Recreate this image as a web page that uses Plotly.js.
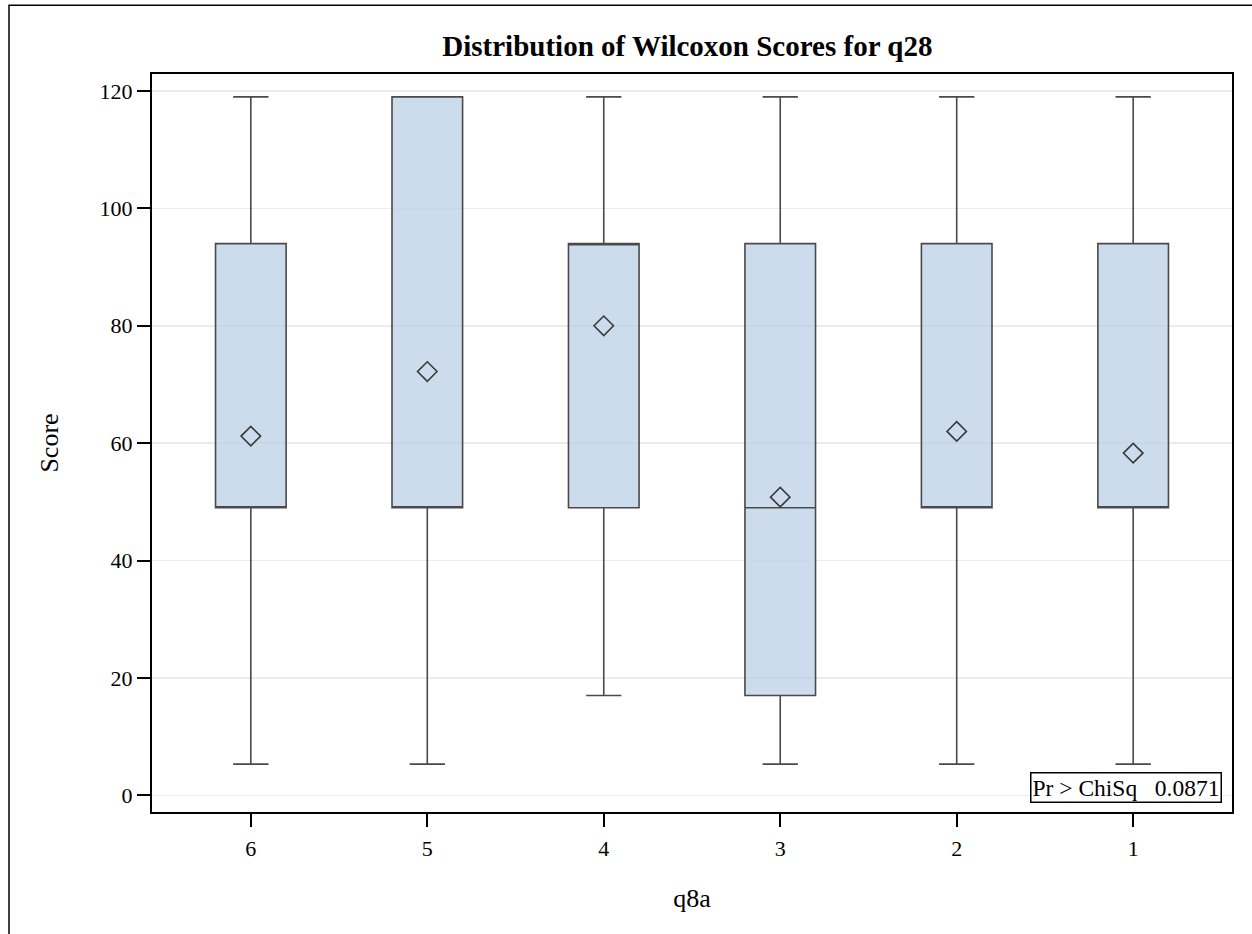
<!DOCTYPE html>
<html>
<head>
<meta charset="utf-8">
<script src="https://cdn.plot.ly/plotly-3.0.1.min.js"></script>
<style>
  html, body { margin: 0; padding: 0; background: #fff; }
  #chart { width: 1252px; height: 934px; }
</style>
</head>
<body>
<div id="chart"></div>
<script>
// Data
const categories = ["6", "5", "4", "3", "2", "1"];
const lowerWhisker = [5.3, 5.3, 17.0, 5.3, 5.3, 5.3];
const q1Values = [49.0, 49.0, 49.0, 17.0, 49.0, 49.0];
const medianValues = [49.0, 49.0, 94.0, 49.0, 49.0, 49.0];
const q3Values = [94.0, 119.0, 94.0, 94.0, 94.0, 94.0];
const upperWhisker = [119.0, 119.0, 119.0, 119.0, 119.0, 119.0];
const meanValues = [61.2, 72.2, 80.0, 50.8, 62.0, 58.3];
const yTicks = [0, 20, 40, 60, 80, 100, 120];
const pValueText = "Pr &gt; ChiSq\u00a0\u00a0\u00a00.0871";

const FONT = "Liberation Serif, Times New Roman, serif";

const boxTrace = {
  type: "box",
  x: categories,
  q1: q1Values,
  median: medianValues,
  q3: q3Values,
  lowerfence: lowerWhisker,
  upperfence: upperWhisker,
  width: 0.4,
  whiskerwidth: 0.5,
  fillcolor: "rgba(188,208,230,0.75)",
  line: { color: "#4a4a4a", width: 1.6 },
  boxpoints: false,
  hoverinfo: "skip",
  showlegend: false
};

const meanTrace = {
  type: "scatter",
  mode: "markers",
  x: categories,
  y: meanValues,
  marker: {
    symbol: "diamond-open",
    size: 15,
    color: "#3a3a3a",
    line: { width: 1.6, color: "#3a3a3a" }
  },
  hoverinfo: "skip",
  showlegend: false
};

const layout = {
  width: 1252,
  height: 934,
  margin: { l: 152, r: 20, t: 74, b: 122 },
  paper_bgcolor: "#ffffff",
  plot_bgcolor: "#ffffff",
  font: { family: FONT, color: "#000000", size: 22 },
  title: {
    text: "<b>Distribution of Wilcoxon Scores for q28</b>",
    font: { family: FONT, size: 29, color: "#000000" },
    x: 0.549,
    xanchor: "center",
    y: 0.951,
    yanchor: "middle"
  },
  xaxis: {
    type: "category",
    categoryorder: "array",
    categoryarray: categories,
    range: [-0.56, 5.56],
    showline: true,
    linecolor: "#000000",
    linewidth: 2,
    mirror: true,
    ticks: "outside",
    ticklen: 13,
    tickwidth: 2,
    tickcolor: "#000000",
    ticklabelstandoff: 3,
    showgrid: false,
    zeroline: false,
    tickfont: { family: FONT, size: 22, color: "#000000" },
    title: { text: "q8a", font: { family: FONT, size: 26, color: "#000000" }, standoff: 28 }
  },
  yaxis: {
    range: [-2.85, 122.9],
    tickvals: yTicks,
    ticktext: yTicks.map(String),
    showline: true,
    linecolor: "#000000",
    linewidth: 2,
    mirror: true,
    ticks: "outside",
    ticklen: 13,
    tickwidth: 2,
    tickcolor: "#000000",
    showgrid: true,
    gridcolor: "#ebebeb",
    gridwidth: 1.5,
    zeroline: false,
    tickfont: { family: FONT, size: 22, color: "#000000" },
    title: { text: "Score", font: { family: FONT, size: 26, color: "#000000" }, standoff: 33 }
  },
  annotations: [{
    xref: "paper",
    yref: "paper",
    x: 0.9907,
    y: 0.0118,
    xanchor: "right",
    yanchor: "bottom",
    text: pValueText,
    showarrow: false,
    font: { family: FONT, size: 23.5, color: "#000000" },
    bordercolor: "#000000",
    borderwidth: 1.5,
    borderpad: 1,
    bgcolor: "#ffffff"
  }],
  shapes: [{
    type: "rect",
    xref: "paper",
    yref: "paper",
    x0: -0.1324,
    x1: 1.3,
    y0: -0.4,
    y1: 1.093,
    line: { color: "#000000", width: 1.5 },
    fillcolor: "rgba(0,0,0,0)",
    layer: "below"
  }]
};

Plotly.newPlot("chart", [boxTrace, meanTrace], layout, { displayModeBar: false, staticPlot: true });
</script>
</body>
</html>
